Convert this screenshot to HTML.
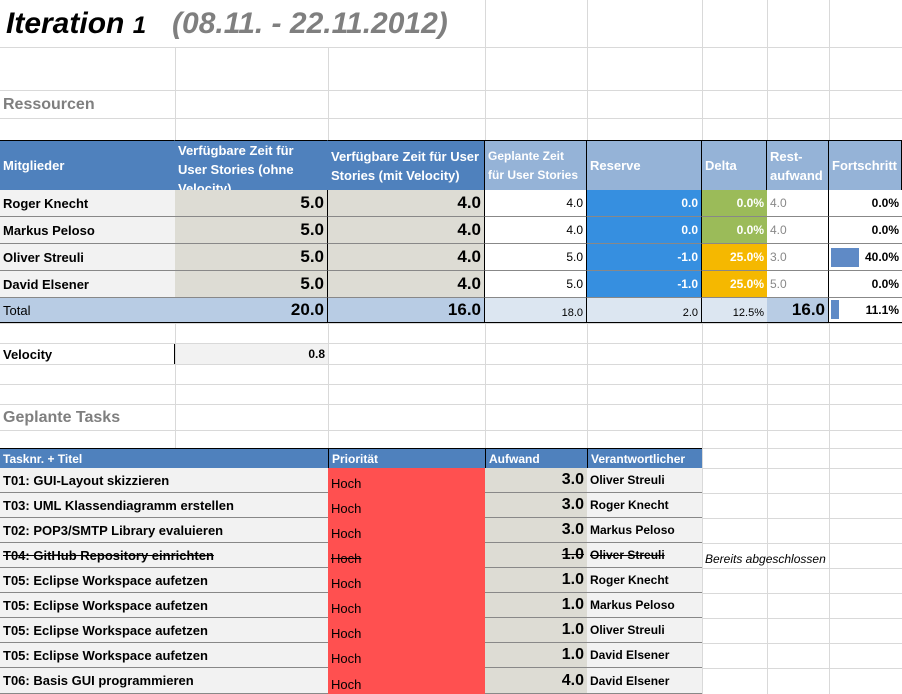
<!DOCTYPE html>
<html><head><meta charset="utf-8">
<style>
body{margin:0;width:902px;height:694px;overflow:hidden;background:#fff;font-family:"Liberation Sans",sans-serif;}
#sheet{position:relative;width:902px;height:694px;}
.c{position:absolute;box-sizing:border-box;white-space:nowrap;overflow:hidden;font-size:12px;display:flex;align-items:center;padding:0 3px;}
.g{position:absolute;background:#d9d9d9;}
</style></head><body>
<div id="sheet"></div>
<script>
const colX=[0,175,328,485,587,702,767,829,902];
const rowY=[0,47,90,118,140,190,217,244,271,298,323,343,364,384,404,430,448,468,493,518,543,568,593,618,643,668,694];
const members=["Roger Knecht","Markus Peloso","Oliver Streuli","David Elsener"];
const ohne=[5.0,5.0,5.0,5.0];
const mit=[4.0,4.0,4.0,4.0];
const geplant=[4.0,4.0,5.0,5.0];
const reserve=[0.0,0.0,-1.0,-1.0];
const delta=["0.0%","0.0%","25.0%","25.0%"];
const rest=[4.0,4.0,3.0,5.0];
const fort=[0.0,0.0,40.0,0.0];
const tasks=["T01: GUI-Layout skizzieren","T03: UML Klassendiagramm erstellen","T02: POP3/SMTP Library evaluieren","T04: GitHub Repository einrichten","T05: Eclipse Workspace aufetzen","T05: Eclipse Workspace aufetzen","T05: Eclipse Workspace aufetzen","T05: Eclipse Workspace aufetzen","T06: Basis GUI programmieren"];
const aufwand=[3.0,3.0,3.0,1.0,1.0,1.0,1.0,1.0,4.0];
const owner=["Oliver Streuli","Roger Knecht","Markus Peloso","Oliver Streuli","Roger Knecht","Markus Peloso","Oliver Streuli","David Elsener","David Elsener"];
const S=document.getElementById('sheet');
colX.slice(1,-1).forEach(x=>{const d=document.createElement('div');d.className='g';d.style.cssText+=`left:${x}px;top:0;width:1px;height:694px`;

S.appendChild(d);});
rowY.slice(1,-1).forEach(y=>{const d=document.createElement('div');d.className='g';d.style.cssText+=`left:0;top:${y}px;width:902px;height:1px`;

S.appendChild(d);});
function cell(x1,y1,x2,y2,txt,st,name){const d=document.createElement('div');d.className='c';
d.style.cssText+=`left:${x1}px;top:${y1}px;width:${x2-x1}px;height:${y2-y1}px;`+(st||'');d.innerHTML=txt;


S.appendChild(d);return d;}
cell(0,0,460,47,'<span style="font-size:30px">Iteration <span style="font-size:24px">1</span></span><span style="font-size:30px;color:#7f7f7f;margin-left:26px">(08.11. - 22.11.2012)</span>','font-style:italic;font-weight:bold;background:#fff;padding-left:6px;','title');
cell(0,91,175,118,'Ressourcen','font-size:16px;font-weight:bold;color:#7f7f7f;','section-ressourcen');
cell(0,405,328,430,'Geplante Tasks','font-size:16px;font-weight:bold;color:#7f7f7f;','section-geplante-tasks');
const hdr=["Mitglieder","Verfügbare Zeit für User Stories (ohne Velocity)","Verfügbare Zeit für User Stories (mit Velocity)","Geplante Zeit für User Stories","Reserve","Delta","Rest-aufwand","Fortschritt"];
hdr.forEach((h,i)=>{cell(colX[i],140,colX[i+1],190,h,`background:${i<3?'#4f81bd':'#95b3d7'};color:#fff;font-weight:bold;font-size:${i==3?12:13}px;white-space:normal;line-height:19px;align-items:${i==1?'flex-start':'center'};border-right:1px solid ${i<2?'#4f81bd':'#000'};border-top:1px solid #000;`,'header-'+i);});
const bd='border-bottom:1px solid #888;';
members.forEach((m,r)=>{const y1=rowY[5+r],y2=rowY[6+r];
cell(0,y1,175,y2,m,'background:#f2f2f2;font-weight:bold;font-size:13px;'+bd,'member-name');
cell(175,y1,328,y2,ohne[r].toFixed(1),'background:#dddcd4;justify-content:flex-end;font-weight:bold;font-size:17px;border-right:1px solid #000;'+bd,'ohne-velocity');
cell(328,y1,485,y2,mit[r].toFixed(1),'background:#dddcd4;justify-content:flex-end;font-weight:bold;font-size:17px;border-right:1px solid #000;'+bd,'mit-velocity');
cell(485,y1,587,y2,geplant[r].toFixed(1),'background:#fff;justify-content:flex-end;border-right:1px solid #000;'+bd,'geplant');
cell(587,y1,702,y2,reserve[r].toFixed(1),'background:#368fe0;color:#fff;font-weight:bold;justify-content:flex-end;border-right:1px solid #000;'+bd,'reserve');
cell(702,y1,767,y2,delta[r],`background:${parseFloat(delta[r])>0?'#f5b800':'#9bbb59'};color:#fff;font-weight:bold;justify-content:flex-end;`+bd,'delta');
cell(767,y1,829,y2,rest[r].toFixed(1),'background:#fff;color:#888;border-right:1px solid #000;'+bd,'restaufwand');
const f=cell(829,y1,902,y2,fort[r].toFixed(1)+'%','background:#fff;justify-content:flex-end;font-weight:bold;'+bd,'fortschritt');
if(fort[r]>0){const b=document.createElement('div');b.style.cssText=`position:absolute;left:2px;top:4px;height:19px;width:${fort[r]/100*70}px;background:#5f8ac6`;

f.appendChild(b);}
});
const sum=a=>a.reduce((s,v)=>s+v,0);
const tb='border-bottom:1px solid #000;';
cell(0,298,175,323,'Total','background:#b8cce4;font-size:13px;'+tb,'total-label');
cell(175,298,328,323,sum(ohne).toFixed(1),'background:#b8cce4;justify-content:flex-end;font-weight:bold;font-size:17px;border-right:1px solid #000;'+tb,'total-ohne');
cell(328,298,485,323,sum(mit).toFixed(1),'background:#b8cce4;justify-content:flex-end;font-weight:bold;font-size:17px;border-right:1px solid #000;'+tb,'total-mit');
cell(485,298,587,323,sum(geplant).toFixed(1),'background:#dce6f1;justify-content:flex-end;align-items:flex-end;padding-bottom:3px;font-size:11px;border-right:1px solid #000;'+tb,'total-geplant');
cell(587,298,702,323,(-sum(reserve)).toFixed(1),'background:#dce6f1;justify-content:flex-end;align-items:flex-end;padding-bottom:3px;font-size:11px;border-right:1px solid #000;'+tb,'total-reserve');
cell(702,298,767,323,'12.5%','background:#dce6f1;justify-content:flex-end;align-items:flex-end;padding-bottom:3px;font-size:11px;'+tb,'total-delta');
cell(767,298,829,323,sum(rest).toFixed(1),'background:#b8cce4;justify-content:flex-end;font-weight:bold;font-size:17px;border-right:1px solid #000;'+tb,'total-restaufwand');
const tf=cell(829,298,902,323,'11.1%','background:#fff;justify-content:flex-end;font-weight:bold;'+tb,'total-fortschritt');
{const b=document.createElement('div');b.style.cssText='position:absolute;left:2px;top:2px;height:19px;width:8px;background:#5f8ac6';

tf.appendChild(b);}
cell(0,344,175,364,'Velocity','background:#fff;font-weight:bold;font-size:13px;border-right:1px solid #000;','velocity-label');
cell(176,344,328,364,'0.8','background:#f2f2f2;justify-content:flex-end;font-weight:bold;','velocity-value');
[["Tasknr. + Titel",0,328],["Priorität",328,485],["Aufwand",485,587],["Verantwortlicher",587,702]].forEach((h,i)=>{
cell(h[1],448,h[2],468,h[0],'background:#4f81bd;color:#fff;font-weight:bold;font-size:12px;border-top:1px solid #000;'+(i>0?'border-left:1px solid #000;':''),'task-header-'+i);});
tasks.forEach((t,r)=>{const y1=rowY[17+r],y2=rowY[18+r];const done=r==3;const sx=done?'text-decoration:line-through;':'';
cell(0,y1,328,y2,t,'background:#f2f2f2;font-weight:bold;font-size:13px;'+sx+bd,'task-title');
cell(328,y1,485,y2,'Hoch','background:#ff5050;align-items:flex-end;padding-bottom:2px;font-size:13px;'+sx,'task-priority');
cell(485,y1,587,y2,aufwand[r].toFixed(1),'background:#dddcd4;justify-content:flex-end;font-weight:bold;font-size:16px;'+sx+bd,'task-aufwand');
cell(587,y1,702,y2,owner[r],'background:#f2f2f2;font-weight:bold;'+sx+bd,'task-owner');
});
cell(702,546,902,571,'Bereits abgeschlossen','font-style:italic;','task-note');
</script>
</body></html>
